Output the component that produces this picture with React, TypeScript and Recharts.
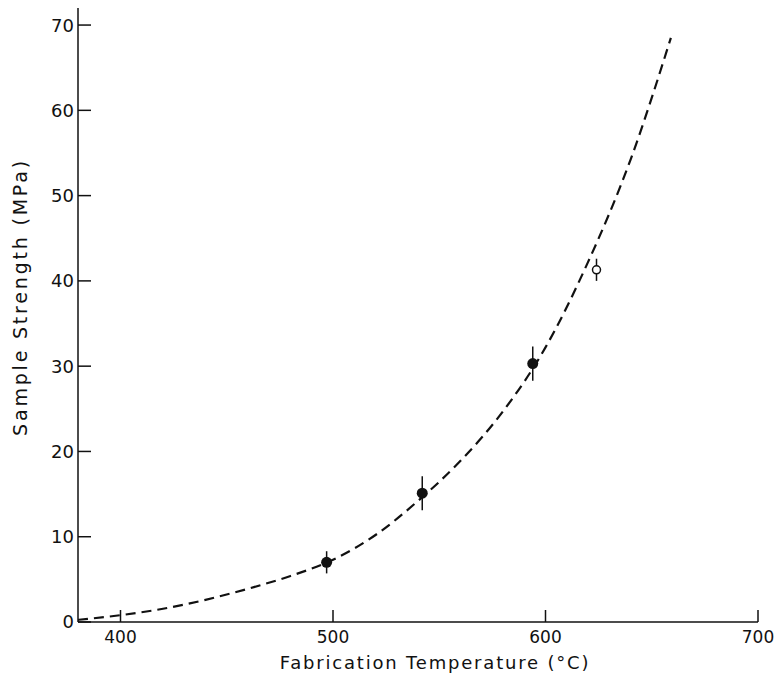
import React from "react";
import {
  ComposedChart,
  Line,
  Scatter,
  ErrorBar,
  XAxis,
  YAxis,
  Label,
} from "recharts";

// fitted curve (dashed)
const curveTemp = [380, 400, 420, 440, 460, 480, 500, 520, 540, 560, 580, 600, 620, 640, 659];
const curveStrength = [0.25, 0.8, 1.55, 2.6, 3.9, 5.4, 7.3, 10.2, 14.2, 18.9, 24.7, 32.2, 42.2, 54.2, 68.5];

// measured samples (filled markers)
const sampleTemp = [497, 542, 594];
const sampleStrength = [7.0, 15.1, 30.3];
const sampleErr = [1.3, 2.0, 2.0];

// open marker
const openTemp = [624];
const openStrength = [41.3];
const openErr = [1.3];

const xTicks = [400, 500, 600, 700];
const yTicks = [0, 10, 20, 30, 40, 50, 60, 70];

const curveData = curveTemp.map((t, i) => ({ t, s: curveStrength[i] }));
const sampleData = sampleTemp.map((t, i) => ({ t, s: sampleStrength[i], e: sampleErr[i] }));
const openData = openTemp.map((t, i) => ({ t, s: openStrength[i], e: openErr[i] }));

const W = 776;
const H = 677;
const FONT = "'DejaVu Sans', sans-serif";
const INK = "#111";

function YTick(props: any) {
  const { x, y, payload } = props;
  return (
    <g>
      <line x1={x} x2={x + 13} y1={y} y2={y} stroke={INK} strokeWidth={1.5} />
      <text x={x - 4} y={y} dy="0.36em" textAnchor="end" fontFamily={FONT} fontSize={18} fill={INK}>
        {payload.value}
      </text>
    </g>
  );
}

function XTick(props: any) {
  const { x, y, payload } = props;
  return (
    <g>
      <line x1={x} x2={x} y1={y} y2={y - 12} stroke={INK} strokeWidth={1.5} />
      <text x={x} y={y + 21} textAnchor="middle" fontFamily={FONT} fontSize={17} fill={INK}>
        {payload.value}
      </text>
    </g>
  );
}

const dot = (p: any) => <circle cx={p.cx} cy={p.cy} r={5.5} fill={INK} />;
const ring = (p: any) => <circle cx={p.cx} cy={p.cy} r={4} fill="#fff" stroke={INK} strokeWidth={1.5} />;

export default function App() {
  return (
    <div style={{ position: "absolute", left: 0, top: 0, width: W, height: H, background: "#fff" }}>
      <ComposedChart width={W} height={H} margin={{ top: 8, right: 18, bottom: 0, left: 0 }}>
        <XAxis
          type="number"
          dataKey="t"
          domain={[380, 700]}
          ticks={xTicks}
          allowDataOverflow
          height={55}
          tickSize={0}
          tickMargin={0}
          tickLine={false}
          tick={<XTick />}
          axisLine={{ stroke: INK, strokeWidth: 1.5 }}
        >
          <Label
            content={() => (
              <text x={435} y={669} textAnchor="middle" fontFamily={FONT} fontSize={18} letterSpacing={1.8} fill={INK}>
                Fabrication Temperature (°C)
              </text>
            )}
          />
        </XAxis>
        <YAxis
          type="number"
          dataKey="s"
          domain={[0, 72]}
          ticks={yTicks}
          allowDataOverflow
          width={78}
          tickSize={0}
          tickMargin={0}
          tickLine={false}
          tick={<YTick />}
          axisLine={{ stroke: INK, strokeWidth: 1.5 }}
        >
          <Label
            content={() => (
              <text
                transform="translate(27,297) rotate(-90)"
                textAnchor="middle"
                fontFamily={FONT}
                fontSize={19}
                letterSpacing={2.8}
                fill={INK}
              >
                Sample Strength (MPa)
              </text>
            )}
          />
        </YAxis>
        <Line
          data={curveData}
          dataKey="s"
          type="monotone"
          stroke={INK}
          strokeWidth={2.2}
          strokeDasharray="10 6"
          dot={false}
          activeDot={false}
          isAnimationActive={false}
        />
        <Scatter data={sampleData} dataKey="s" shape={dot} isAnimationActive={false}>
          <ErrorBar dataKey="e" direction="y" width={0} stroke={INK} strokeWidth={1.5} />
        </Scatter>
        <Scatter data={openData} dataKey="s" shape={ring} isAnimationActive={false}>
          <ErrorBar dataKey="e" direction="y" width={0} stroke={INK} strokeWidth={1.5} />
        </Scatter>
      </ComposedChart>
    </div>
  );
}
